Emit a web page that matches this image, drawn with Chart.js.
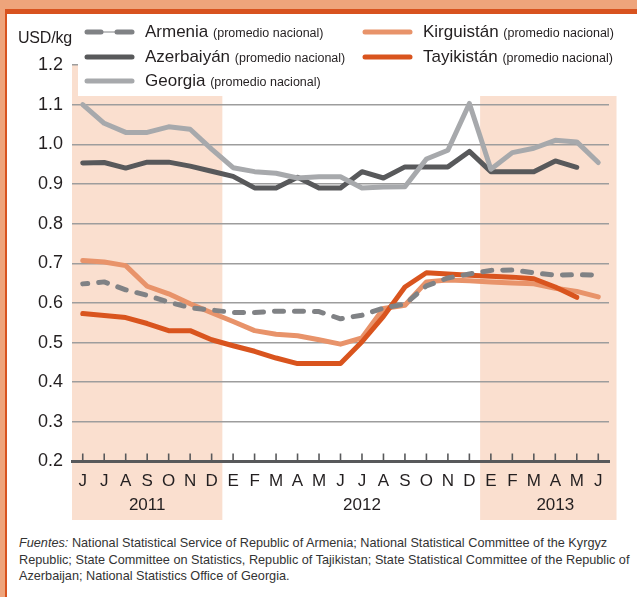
<!DOCTYPE html>
<html>
<head>
<meta charset="utf-8">
<script src="https://cdn.jsdelivr.net/npm/chart.js@4/dist/chart.umd.min.js"></script>
<style>
    body { margin: 0; background: #fff; font-family: "Liberation Sans", Arial, sans-serif; color: #231f20; }
    #wrap { position: relative; width: 637px; height: 597px; overflow: hidden; background: #fff; }
    .bar1 { position: absolute; left: 0; top: 0; width: 637px; height: 9px; background: #eea47b; }
    .bar2 { position: absolute; left: 0; top: 9px; width: 637px; height: 5px; background: #d8531f; }
    .side1 { position: absolute; left: 0; top: 0; width: 5px; height: 597px; background: #eea47b; }
    .side2 { position: absolute; left: 5px; top: 9px; width: 2px; height: 588px; background: #d8531f; }
    #chart { position: absolute; left: 0; top: 0; }
    #unit { position: absolute; left: 18px; top: 29px; font-size: 16px; letter-spacing: -0.2px; }
    #legend { position: absolute; left: 78px; top: 18px; width: 543px; height: 78px; background: #fff; }
    .item { position: absolute; font-size: 17px; white-space: nowrap; line-height: 20px; }
    .item small { font-size: 12.5px; }
    .item svg { position: absolute; top: 0; }
    #source { position: absolute; left: 19px; top: 535px; font-size: 12.7px; line-height: 16.5px; color: #333; white-space: nowrap; }
</style>
</head>
<body>
<div id="wrap">
    <canvas id="chart" width="637" height="530"></canvas>
    <div class="bar1"></div><div class="bar2"></div>
    <div class="side1"></div><div class="side2"></div>
    <div id="unit">USD/kg</div>
    <div id="legend"></div>
    <div id="source"><i>Fuentes:</i> National Statistical Service of Republic of Armenia; National Statistical Committee of the Kyrgyz<br>Republic; State Committee on Statistics, Republic of Tajikistan; State Statistical Committee of the Republic of<br>Azerbaijan; National Statistics Office of Georgia.</div>
</div>
<script>
const months = ["J", "J", "A", "S", "O", "N", "D", "E", "F", "M", "A", "M", "J",
    "J", "A", "S", "O", "N", "D", "E", "F", "M", "A", "M", "J"];
const yearLabels = { 3: "2011", 13: "2012", 22: "2013" };

const armenia = [0.648, 0.653, 0.633, 0.619, 0.602, 0.588, 0.582, 0.576, 0.576, 0.579, 0.579, 0.578, 0.560,
    0.569, 0.587, 0.597, 0.643, 0.663, 0.673, 0.682, 0.683, 0.676, 0.670, 0.671, 0.670];
const azerbaijan = [0.953, 0.954, 0.940, 0.955, 0.955, 0.945, 0.932, 0.919, 0.890, 0.890, 0.917, 0.890, 0.890,
    0.931, 0.915, 0.943, 0.943, 0.943, 0.982, 0.931, 0.931, 0.931, 0.958, 0.942, null];
const georgia = [1.100, 1.053, 1.030, 1.030, 1.044, 1.038, 0.988, 0.941, 0.931, 0.927, 0.915, 0.918, 0.918,
    0.890, 0.892, 0.893, 0.963, 0.985, 1.103, 0.937, 0.979, 0.990, 1.010, 1.006, 0.954];
const kyrgyzstan = [0.707, 0.703, 0.694, 0.642, 0.623, 0.598, 0.575, 0.553, 0.530, 0.521, 0.517, 0.507, 0.496,
    0.512, 0.586, 0.594, 0.653, 0.658, 0.656, 0.653, 0.650, 0.648, 0.637, 0.629, 0.615];
const tajikistan = [0.573, 0.568, 0.563, 0.548, 0.530, 0.530, 0.507, 0.492, 0.478, 0.461, 0.447, 0.447, 0.447,
    0.502, 0.566, 0.640, 0.676, 0.673, 0.670, 0.667, 0.665, 0.661, 0.640, 0.614, null];

// shaded periods, as category index ranges
const bands = [[-0.5, 6.5], [18.5, 24.85]];

const series = [
    { name: "Armenia", data: armenia, color: "#808285", dash: [9, 11], order: 0, col: 0, row: 0 },
    { name: "Azerbaiyán", data: azerbaijan, color: "#58595b", dash: [], order: 4, col: 0, row: 1 },
    { name: "Georgia", data: georgia, color: "#a7a9ac", dash: [], order: 3, col: 0, row: 2 },
    { name: "Kirguistán", data: kyrgyzstan, color: "#e8936a", dash: [], order: 2, col: 1, row: 0 },
    { name: "Tayikistán", data: tajikistan, color: "#d9541e", dash: [], order: 1, col: 1, row: 1 }
];

function buildLegend() {
    const legend = document.getElementById("legend");
    const rowTop = [4, 29, 53];
    series.forEach(s => {
        const item = document.createElement("div");
        item.className = "item";
        item.style.left = (s.col === 0 ? 6 : 284) + "px";
        item.style.top = rowTop[s.row] + "px";
        let swatch;
        if (s.dash.length) {
            swatch = '<svg width="52" height="20" style="left:0"><line x1="3" y1="10" x2="48" y2="10" stroke="' + s.color + '" stroke-width="1"/>' +
                '<line x1="3" y1="10" x2="17" y2="10" stroke="' + s.color + '" stroke-width="5" stroke-linecap="round"/>' +
                '<line x1="33" y1="10" x2="48" y2="10" stroke="' + s.color + '" stroke-width="5" stroke-linecap="round"/></svg>';
        } else {
            swatch = '<svg width="52" height="20" style="left:0"><line x1="3" y1="10" x2="48" y2="10" stroke="' + s.color + '" stroke-width="5" stroke-linecap="round"/></svg>';
        }
        item.innerHTML = swatch + '<span style="margin-left:61px">' + s.name + ' <small>(promedio nacional)</small></span>';
        legend.appendChild(item);
    });
}

const bandsPlugin = {
    id: "bands",
    beforeDraw(chart) {
        const ctx = chart.ctx;
        const x = chart.scales.x;
        const top = chart.chartArea.top;
        ctx.save();
        ctx.fillStyle = "#fadfcf";
        bands.forEach(b => {
            const x1 = x.getPixelForValue(b[0]);
            const x2 = x.getPixelForValue(b[1]);
            ctx.fillRect(x1, top, x2 - x1, 520 - top);
        });
        ctx.restore();
    },
    afterDraw(chart) {
        const ctx = chart.ctx;
        const x = chart.scales.x;
        const bottom = chart.chartArea.bottom;
        ctx.save();
        ctx.strokeStyle = "#58595b";
        ctx.lineWidth = 1.6;
        months.forEach((m, i) => {
            const px = x.getPixelForValue(i);
            ctx.beginPath();
            ctx.moveTo(px, bottom - 8);
            ctx.lineTo(px, bottom);
            ctx.stroke();
        });
        ctx.restore();
    }
};

function createChart() {
    const ctx = document.getElementById("chart");

    new Chart(ctx, {
        type: "line",
        data: {
            labels: months.map((m, i) => yearLabels[i] ? [m, yearLabels[i]] : m),
            datasets: series.map(s => ({
                label: s.name,
                data: s.data,
                borderColor: s.color,
                borderWidth: 5,
                borderDash: s.dash,
                borderDashOffset: 4,
                borderCapStyle: "round",
                borderJoinStyle: "round",
                pointRadius: 0,
                tension: 0,
                fill: false,
                order: s.order
            }))
        },
        options: {
            responsive: false,
            animation: false,
            layout: {
                padding: { top: 65, right: 28, left: 0, bottom: 0 }
            },
            plugins: {
                legend: { display: false },
                tooltip: { enabled: false }
            },
            scales: {
                x: {
                    offset: true,
                    afterFit: function(scale) { scale.height = 68.5; },
                    grid: { display: false, drawTicks: false },
                    border: { display: true, color: "#58595b", width: 3 },
                    ticks: {
                        autoSkip: false,
                        maxRotation: 0,
                        padding: 8,
                        color: "#231f20",
                        font: { family: "Liberation Sans", size: 17, lineHeight: "24px" }
                    }
                },
                y: {
                    min: 0.2,
                    max: 1.2,
                    afterFit: function(scale) { scale.width = 72; },
                    grid: { color: "#9d9d9d", lineWidth: 1.5, drawTicks: false },
                    border: { display: false },
                    ticks: {
                        stepSize: 0.1,
                        padding: 9,
                        color: "#231f20",
                        font: { family: "Liberation Sans", size: 18 },
                        callback: function(value) {
                            return value.toFixed(1);
                        }
                    }
                }
            }
        },
        plugins: [bandsPlugin]
    });
}

buildLegend();
createChart();
</script>
</body>
</html>
